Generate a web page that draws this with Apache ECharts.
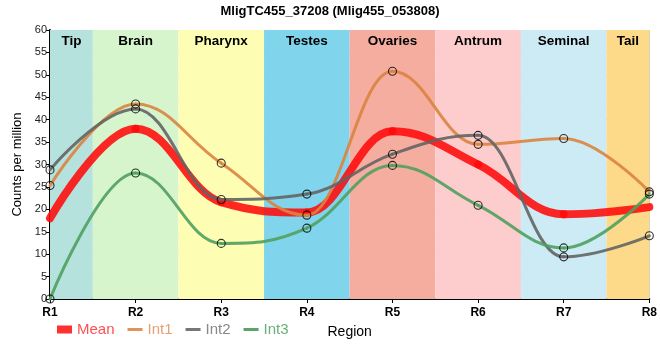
<!DOCTYPE html>
<html><head><meta charset="utf-8">
<script src="https://cdn.jsdelivr.net/npm/echarts@6/dist/echarts.min.js"></script>
<style>html,body{margin:0;padding:0;background:#fff}#c{width:660px;height:360px}</style>
</head><body><div id="c"></div>
<script>
var categories = ['R1','R2','R3','R4','R5','R6','R7','R8'];
var regions = ['Tip','Brain','Pharynx','Testes','Ovaries','Antrum','Seminal','Tail'];
var regionColors = ['#b6e2dd','#d7f5cd','#fdfdb3','#80d4ec','#f5ada0','#fdcccc','#cdebf5','#fdd98a'];
var meanVals = [18.0, 38.0, 21.6, 19.3, 37.4, 30.0, 18.9, 20.5];
var int1Vals = [25.3, 43.5, 30.3, 18.7, 50.8, 34.5, 35.8, 23.9];
var int2Vals = [28.8, 42.4, 22.2, 23.4, 32.3, 36.5, 9.4, 14.1];
var int3Vals = [0.0, 28.1, 12.4, 15.8, 29.8, 20.9, 11.4, 23.4];
var yTicks = [0, 60, 5];

var FONT = 'Arial, "Liberation Sans", sans-serif';
var last = categories.length - 1;
function pairs(v){ return v.map(function(y,i){ return [i,y]; }); }
var areas = regions.map(function(n,i){
  return [{name:n, xAxis: Math.max(0,i-0.5), itemStyle:{color:regionColors[i]}}, {xAxis: Math.min(last,i+0.5)}];
});
// spline control points (smoothing 1.5, flattened at local extrema), in pixel space from the axes
function controls(P){
  var C = P.map(function(p){ return {lx:p[0], ly:p[1], rx:p[0], ry:p[1]}; });
  var sm = 1.5, den = sm + 1;
  for (var i = 1; i < P.length - 1; i++) {
    var x = P[i][0], y = P[i][1], lx0 = P[i-1][0], ly0 = P[i-1][1], nx = P[i+1][0], ny = P[i+1][1];
    var lcx = (sm*x + lx0)/den, lcy = (sm*y + ly0)/den;
    var rcx = (sm*x + nx)/den, rcy = (sm*y + ny)/den;
    if (rcx !== lcx) {
      var corr = ((rcy - lcy)*(rcx - x))/(rcx - lcx) + y - rcy;
      lcy += corr; rcy += corr;
    }
    if (lcy > ly0 && lcy > y) { lcy = Math.max(ly0, y); rcy = 2*y - lcy; }
    else if (lcy < ly0 && lcy < y) { lcy = Math.min(ly0, y); rcy = 2*y - lcy; }
    if (rcy > ny && rcy > y) { rcy = Math.max(ny, y); lcy = 2*y - rcy; }
    else if (rcy < ny && rcy < y) { rcy = Math.min(ny, y); lcy = 2*y - rcy; }
    C[i] = {lx:lcx, ly:lcy, rx:rcx, ry:rcy};
  }
  return C;
}
function splineRender(vals, color, width){
  return function(params, api){
    var i = params.dataIndex;
    if (i >= vals.length - 1) return null;
    var P = vals.map(function(v,k){ return api.coord([k, v]); });
    var C = controls(P);
    var a = P[i], b = P[i+1];
    return {type:'bezierCurve', silent:true,
      shape:{x1:a[0], y1:a[1], cpx1:C[i].rx, cpy1:C[i].ry, cpx2:C[i+1].lx, cpy2:C[i+1].ly, x2:b[0], y2:b[1]},
      style:{stroke:color, lineWidth:width, fill:null, lineCap:'round'}};
  };
}
function lineSeries(name, vals, color, width, z){
  return {name:name, type:'custom', data:pairs(vals), renderItem:splineRender(vals, color, width),
    encode:{x:0, y:1}, z:z, clip:false, silent:true};
}
function markerSeries(name, vals){
  return {name:name, type:'scatter', data:pairs(vals), symbol:'circle', symbolSize:8, z:10, silent:true,
    itemStyle:{color:'rgba(0,0,0,0)', borderColor:'#000', borderWidth:1.1}};
}
var legIcon = 'path://M0,0L15,0L15,3L0,3Z';
var chart = echarts.init(document.getElementById('c'), null, {renderer:'canvas'});
chart.setOption({
  animation:false,
  backgroundColor:'#fff',
  title:{text:'MligTC455_37208 (Mlig455_053808)', left:'center', top:0,
    textStyle:{fontFamily:FONT, fontSize:13, fontWeight:'bold', color:'#000'}},
  grid:{left:50, right:9, top:30, bottom:61},
  legend:{left:52, top:317, itemGap:13, itemWidth:15, itemHeight:8, selectedMode:false,
    textStyle:{fontFamily:FONT, fontSize:15},
    data:[
      {name:'Mean', icon:'rect', itemStyle:{color:'#ff3030', borderWidth:0}, textStyle:{color:'#ff5050'}},
      {name:'Int1', icon:legIcon, itemStyle:{color:'#e0925a', borderWidth:0}, textStyle:{color:'#e8a070'}},
      {name:'Int2', icon:legIcon, itemStyle:{color:'#777777', borderWidth:0}, textStyle:{color:'#888888'}},
      {name:'Int3', icon:legIcon, itemStyle:{color:'#5aa469', borderWidth:0}, textStyle:{color:'#6ab07a'}}
    ]},
  xAxis:{type:'value', min:0, max:last, interval:1,
    name:'Region', nameLocation:'middle', nameGap:26,
    nameTextStyle:{fontFamily:FONT, fontSize:14, color:'#000'},
    axisLine:{lineStyle:{color:'#000', width:2}},
    axisTick:{show:true, length:4, lineStyle:{color:'#000'}},
    axisLabel:{fontFamily:FONT, fontSize:12, fontWeight:'bold', color:'#000', margin:8,
      formatter:function(v){ return categories[Math.round(v)] || ''; }},
    splitLine:{show:true, lineStyle:{color:'#cccccc', width:1}}},
  yAxis:{type:'value', min:yTicks[0], max:yTicks[1], interval:yTicks[2],
    name:'Counts per million', nameLocation:'middle', nameGap:22,
    nameTextStyle:{fontFamily:FONT, fontSize:13, color:'#000'},
    axisLine:{show:true, lineStyle:{color:'#000', width:2}},
    axisTick:{show:true, length:4, lineStyle:{color:'#000'}},
    axisLabel:{fontFamily:FONT, fontSize:11, color:'#222', margin:3},
    splitLine:{show:true, lineStyle:{color:'#cccccc', width:1}}},
  series:[
    {name:'bg', type:'line', data:[], markArea:{silent:true,
        label:{show:true, position:'insideTop', distance:4, fontFamily:FONT, fontSize:13.5, fontWeight:'bold', color:'#000'},
        data:areas}, z:1},
    lineSeries('Mean', meanVals, 'rgba(255,10,10,0.88)', 8, 2),
    lineSeries('Int1', int1Vals, 'rgba(218,132,64,0.9)', 3, 3),
    lineSeries('Int2', int2Vals, 'rgba(100,100,100,0.9)', 3, 3),
    lineSeries('Int3', int3Vals, 'rgba(80,160,95,0.9)', 3, 3),
    markerSeries('Int1', int1Vals),
    markerSeries('Int2', int2Vals),
    markerSeries('Int3', int3Vals)
  ]
});
</script></body></html>
